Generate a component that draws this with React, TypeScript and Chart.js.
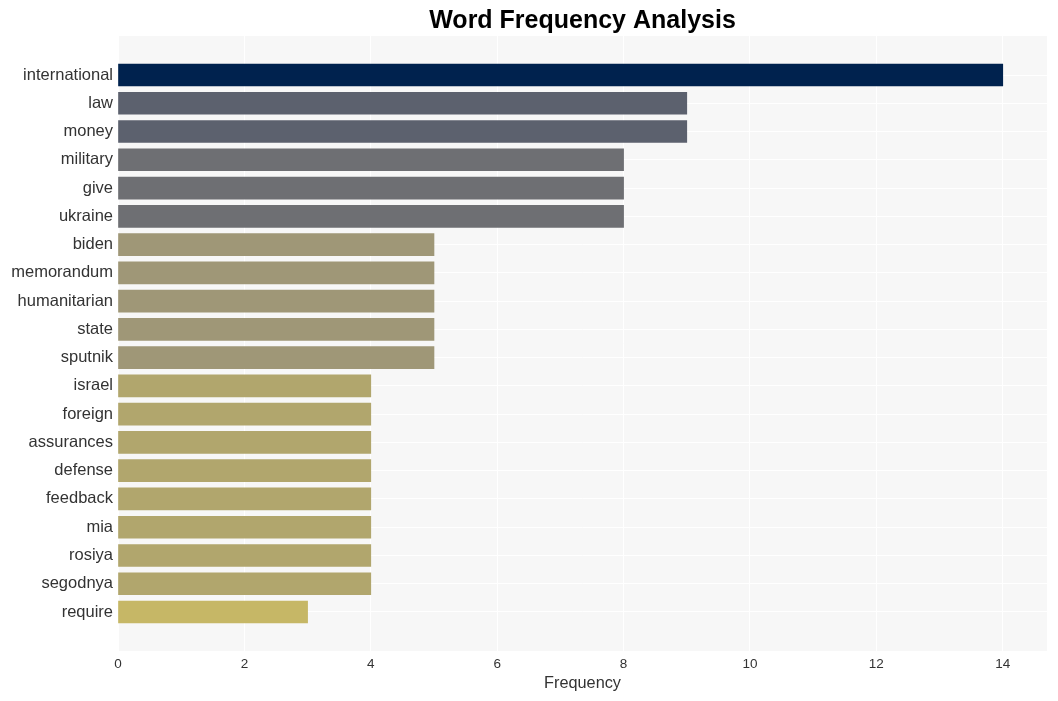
import React, { useEffect, useRef } from "react";
import { Chart, registerables } from "chart.js";

Chart.register(...registerables);

const words = [
  "international", "law", "money", "military", "give", "ukraine", "biden",
  "memorandum", "humanitarian", "state", "sputnik", "israel", "foreign",
  "assurances", "defense", "feedback", "mia", "rosiya", "segodnya", "require",
];
const counts = [14, 9, 9, 8, 8, 8, 5, 5, 5, 5, 5, 4, 4, 4, 4, 4, 4, 4, 4, 3];
const xTicks = [0, 2, 4, 6, 8, 10, 12, 14];

const colorFor = (v: number): string => {
  if (v >= 14) return "#00224e";
  if (v >= 9) return "#5c616e";
  if (v >= 8) return "#6e6f73";
  if (v >= 5) return "#9f9777";
  if (v >= 4) return "#b1a66d";
  return "#c6b766";
};

const FONT = "'Liberation Sans', Arial, Helvetica, sans-serif";

export default function App() {
  const ref = useRef<HTMLCanvasElement | null>(null);

  useEffect(() => {
    document.body.style.margin = "0";
    const canvas = ref.current;
    if (!canvas) return;

    const bgPlugin = {
      id: "bgPlugin",
      beforeDraw(chart: any) {
        const { ctx, chartArea } = chart;
        ctx.save();
        ctx.fillStyle = "#f7f7f7";
        ctx.fillRect(chartArea.left, chartArea.top, chartArea.right - chartArea.left, chartArea.bottom - chartArea.top);
        ctx.restore();
      },
      afterDraw(chart: any) {
        const { ctx, chartArea } = chart;
        ctx.save();
        ctx.fillStyle = "#000000";
        ctx.font = `bold 25px ${FONT}`;
        ctx.textAlign = "center";
        ctx.textBaseline = "middle";
        ctx.fillText("Word Frequency Analysis", (chartArea.left + chartArea.right) / 2, 21);
        ctx.restore();
      },
    };

    const chart = new Chart(canvas, {
      type: "bar",
      data: {
        datasets: [
          {
            data: counts.map((c, i) => ({ x: c, y: i })),
            backgroundColor: counts.map(colorFor),
            barThickness: 22,
            borderWidth: 0,
          },
        ],
      },
      options: {
        indexAxis: "y",
        animation: false,
        responsive: false,
        maintainAspectRatio: false,
        layout: { padding: { top: 36, right: 11, left: 0, bottom: 8 } },
        plugins: {
          legend: { display: false },
          tooltip: { enabled: false },
          title: { display: false },
        },
        scales: {
          x: {
            type: "linear",
            min: 0,
            max: 14.7,
            offset: false,
            afterBuildTicks: (scale: any) => {
              scale.ticks = xTicks.map((v) => ({ value: v }));
            },
            afterFit: (scale: any) => {
              scale.height = 42;
            },
            grid: { color: "#ffffff", lineWidth: 1, drawTicks: false, offset: false },
            border: { display: false },
            ticks: {
              color: "#333333",
              font: { family: FONT, size: 13.5 },
              padding: 5,
            },
            title: {
              display: true,
              text: "Frequency",
              color: "#333333",
              font: { family: FONT, size: 16.3 },
              padding: { top: 4, bottom: 0 },
            },
          },
          y: {
            type: "linear",
            reverse: true,
            min: -1.38,
            max: 20.38,
            offset: false,
            afterBuildTicks: (scale: any) => {
              scale.ticks = words.map((_, i) => ({ value: i }));
            },
            afterFit: (scale: any) => {
              scale.width = 118;
            },
            grid: { color: "#ffffff", lineWidth: 1, drawTicks: false, offset: false },
            border: { display: false },
            ticks: {
              color: "#333333",
              font: { family: FONT, size: 16.5 },
              padding: 5,
              autoSkip: false,
              callback: (v: any) => words[Math.round(Number(v))] ?? "",
            },
          },
        },
      },
      plugins: [bgPlugin],
    } as any);

    return () => chart.destroy();
  }, []);

  return (
    <div style={{ width: 1058, height: 701, position: "relative" }}>
      <canvas ref={ref} width={1058} height={701} style={{ display: "block" }} />
    </div>
  );
}
